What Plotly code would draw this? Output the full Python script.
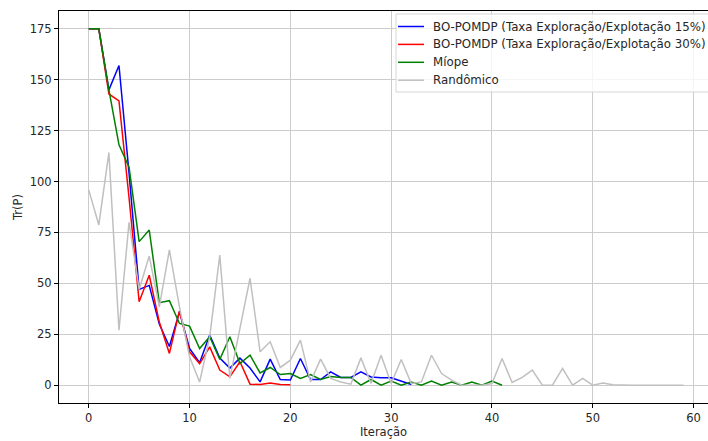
import plotly.graph_objects as go

bo15 = [175, 175, 145, 157, 104, 47, 49, 30, 19, 36, 18, 11, 24.6, 13.3, 8.4, 13.3, 8.4, 1.6, 12.8,
        2.8, 2.5, 13.1, 2.8, 2.8, 6.5, 3.8, 3.8, 6.5, 4, 3.6, 3.6, 2.1, 0.3]
bo30 = [175, 175, 143, 139.6, 92, 41, 54, 31, 15.6, 36.5, 16.4, 10.5, 18.8, 7.4, 4.1, 11.5, 0.5, 0.3,
        1.1, 0.3, 0.2]
miope = [175, 175, 145, 118, 107, 70.5, 76.2, 40.5, 41.5, 30.3, 29, 18, 23.8, 12.6, 23.8, 10.6, 14.7,
         6, 8.7, 5.2, 5.7, 3.3, 5.2, 2.8, 4.3, 3.8, 3.8, 0, 2.8, 0, 2, 0, 1.6, 0, 2, 0, 1.6, 0, 1.6,
         0, 2, 0]
rand = [95.9, 78.7, 114.2, 27, 80, 47, 63.4, 38.5, 66.4, 38.5, 14, 1.6, 23.7, 63.9, 3.3, 28, 52.5,
        16.4, 21.3, 8.7, 12.3, 22.1, 1.6, 12.8, 3.3, 1.6, 0.5, 13.4, 0.8, 14.7, 0.8, 12.6, 0.8, 1.6,
        14.7, 5.7, 2.5, 0, 0, 0, 0.8, 13.1, 1.3, 3.8, 7.4, 0, 0, 8.2, 0, 3.3, 0, 1.1, 0.2, 0, 0, 0,
        0, 0, 0, 0]

series = [
    ("BO-POMDP (Taxa Exploração/Explotação 15%)", bo15, "#0000ff"),
    ("BO-POMDP (Taxa Exploração/Explotação 30%)", bo30, "#ff0000"),
    ("Míope", miope, "#008000"),
    ("Randômico", rand, "#c0c0c0"),
]

W, H = 708, 441
L, R, T, B = 59, 0, 11, 38
PW, PH = W - L - R, H - T - B


def px(x):
    return (x - L) / PW


def py(y):
    return (H - B - y) / PH


fig = go.Figure()
for name, vals, color in series:
    fig.add_trace(go.Scatter(x=list(range(len(vals))), y=vals, mode="lines", name=name,
                             line=dict(color=color, width=1.5), showlegend=False))

font = dict(family="DejaVu Sans", size=11.5, color="#262626")

# manual legend (matplotlib-like, extends past the right edge as in the reference)
shapes = [dict(type="rect", xref="paper", yref="paper", layer="above",
               x0=px(396), x1=px(716), y0=py(92), y1=py(14),
               fillcolor="rgba(255,255,255,0.8)", line=dict(color="#d6d6d6", width=1))]
annotations = []
for k, (name, vals, color) in enumerate(series):
    yy = 26.5 + k * 17.9
    shapes.append(dict(type="line", xref="paper", yref="paper", layer="above",
                       x0=px(398), x1=px(424), y0=py(yy), y1=py(yy),
                       line=dict(color=color, width=1.5)))
    annotations.append(dict(xref="paper", yref="paper", x=px(431), y=py(yy),
                            xanchor="left", yanchor="middle", showarrow=False, text=name,
                            font=dict(family="DejaVu Sans", size=11.8, color="#262626")))

fig.update_layout(
    width=W, height=H,
    margin=dict(l=L, r=R, t=T, b=B),
    paper_bgcolor="white", plot_bgcolor="white",
    font=font,
    showlegend=False,
    shapes=shapes,
    annotations=annotations,
    xaxis=dict(range=[-2.95, 61.43], dtick=10, tick0=0, showgrid=True, gridcolor="#cccccc",
               gridwidth=1, zeroline=False, showline=True, linecolor="black", linewidth=1,
               mirror=True, ticks="outside", ticklen=4, tickcolor="black", automargin=False,
               title=dict(text="Iteração", standoff=3, font=font)),
    yaxis=dict(range=[-8.75, 183.75], dtick=25, tick0=0, showgrid=True, gridcolor="#cccccc",
               gridwidth=1, zeroline=False, showline=True, linecolor="black", linewidth=1,
               mirror=False, ticks="outside", ticklen=4, tickcolor="black", automargin=False,
               title=dict(text="Tr(P)", standoff=4, font=font)),
)

fig.write_html("out.html", config={"displayModeBar": False},
               post_script="document.body.style.margin='0';")
